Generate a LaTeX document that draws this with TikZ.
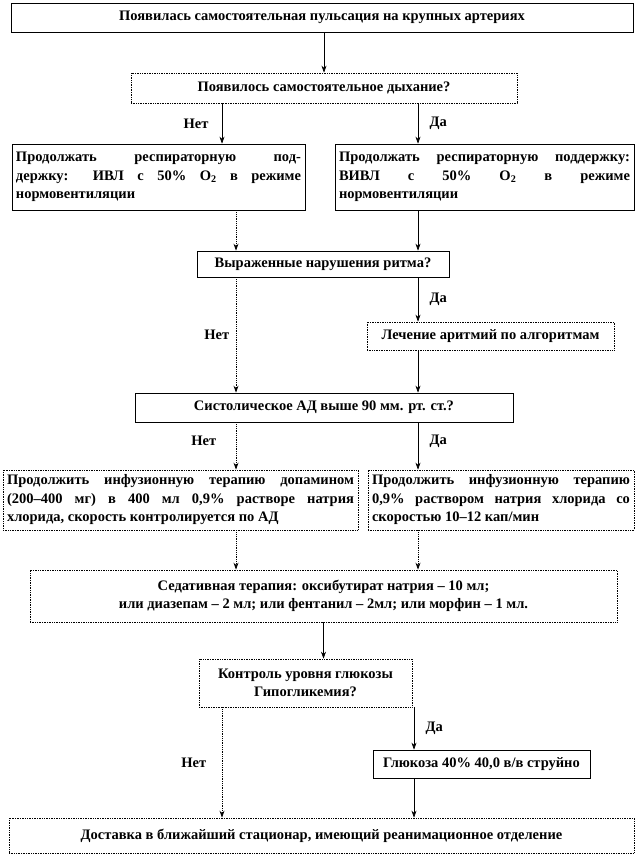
\documentclass[tikz,border=0pt]{standalone}
\usepackage{fontspec}
\setmainfont{Liberation Serif}
\usetikzlibrary{arrows.meta}
\begin{document}
\begin{tikzpicture}[x=1pt,y=-1pt,>={Stealth[length=7pt,width=5pt]},
        font=\bfseries\fontsize{14.5}{18.5}\selectfont,
        box/.style={draw, rectangle, line width=0.7pt, inner sep=4pt},
        dbox/.style={box, densely dotted},
        dline/.style={->, densely dotted, line width=0.8pt},
        sline/.style={->, line width=0.6pt}]
        \useasboundingbox (0,0) rectangle (638,858);
        \coordinate (c1) at (222,0);
        \coordinate (c2) at (236,0);
        \coordinate (c3) at (418,0);
        \coordinate (c4) at (414,0);

        \node (b1) [box, minimum width=622pt, minimum height=29pt] at (322,17.5) {Появилась самостоятельная пульсация на крупных артериях};
        \node (b2) [dbox, minimum width=386pt, minimum height=30pt] at (324,88) {Появилось самостоятельное дыхание?};
        \node (b3l) [box, text width=285pt, minimum height=66pt, align=justify] at (158.5,177) {Продолжать респираторную под-\linebreak держку: ИВЛ с 50\% O\textsubscript{2} в режиме\linebreak нормовентиляции};
        \node (b3r) [box, text width=291pt, minimum height=66pt, align=justify] at (484.5,177) {Продолжать респираторную поддержку:\linebreak ВИВЛ с 50\% O\textsubscript{2} в режиме\linebreak нормовентиляции};
        \node (b4) [box, minimum width=252pt, minimum height=26pt] at (323,264) {Выраженные нарушения ритма?};
        \node (b5) [dbox, minimum width=247pt, minimum height=28pt] at (490.5,336) {Лечение аритмий по алгоритмам};
        \node (b6) [box, minimum width=378pt, minimum height=29pt] at (324,407.5) {Систолическое АД выше 90 мм. рт. ст.?};
        \node (b7l) [dbox, text width=347pt, minimum height=60pt, align=justify] at (180.5,500) {Продолжить инфузионную терапию допамином\linebreak (200–400 мг) в 400 мл 0,9\% растворе натрия\linebreak хлорида, скорость контролируется по АД};
        \node (b7r) [dbox, text width=258pt, minimum height=60pt, align=justify] at (501,500) {Продолжить инфузионную терапию\linebreak 0,9\% раствором натрия хлорида со\linebreak скоростью 10–12 кап/мин};
        \node (b8) [dbox, minimum width=587pt, minimum height=52pt, align=center] at (323.5,596) {Седативная терапия: оксибутират натрия – 10 мл;\\ или диазепам – 2 мл; или фентанил – 2мл; или морфин – 1 мл.};
        \node (b9) [dbox, minimum width=213pt, minimum height=48pt, align=center] at (305.5,683) {Контроль уровня глюкозы\\ Гипогликемия?};
        \node (b10) [box, minimum width=217pt, minimum height=28pt] at (481.5,764) {Глюкоза 40\% 40,0 в/в струйно};
        \node (b11) [dbox, minimum width=625pt, minimum height=35pt] at (321.5,835.5) {Доставка в ближайший стационар, имеющий реанимационное отделение};

        \draw[sline] (b1.south -| b2) -- (b2);
        \draw[sline] (b2.south -| c1) -- node[left=10pt] {Нет} (b3l.north -| c1);
        \draw[sline] (b2.south -| c3) -- node[right=8pt] {Да} (b3r.north -| c3);
        \draw[dline] (b3l.south -| c2) -- (b4.north -| c2);
        \draw[sline] (b3r.south -| c3) -- (b4.north -| c3);
        \draw[dline] (b4.south -| c2) -- node[left=3pt] {Нет} (b6.north -| c2);
        \draw[sline] (b4.south -| c3) -- node[right=8pt] {Да} (b5.north -| c3);
        \draw[sline] (b5.south -| c3) -- (b6.north -| c3);
        \draw[dline] (b6.south -| c2) -- node[left=16pt, pos=0.4] {Нет} (b7l.north -| c2);
        \draw[sline] (b6.south -| c3) -- node[right=8pt, pos=0.4] {Да} (b7r.north -| c3);
        \draw[dline] (b7l.south -| c2) -- (b8.north -| c2);
        \draw[dline] (b7r.south -| c3) -- (b8.north -| c3);
        \draw[sline] (b8.south -| b8) -- (b9.north -| b8);
        \draw[dline] (b9.south -| c1) -- node[left=12pt] {Нет} (b11.north -| c1);
        \draw[sline] (b9.south -| c4) -- node[right=8pt] {Да} (b10.north -| c4);
        \draw[sline] (b10.south -| c4) -- (b11.north -| c4);
\end{tikzpicture}
\end{document}
